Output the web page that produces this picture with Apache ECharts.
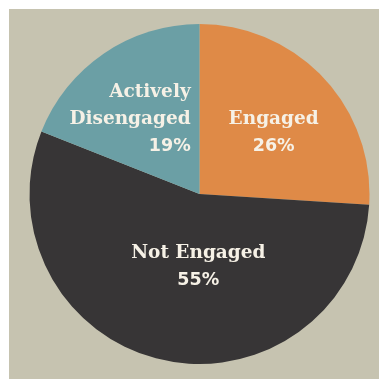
<!DOCTYPE html>
<html>
<head>
<meta charset="utf-8">
<script src="https://cdn.jsdelivr.net/npm/echarts@6/dist/echarts.min.js"></script>
<style>
  html, body { margin: 0; padding: 0; background: #ffffff; }
  #chart { position: absolute; left: 9px; top: 9px; width: 370px; height: 370px; background: #c6c3b0; }
</style>
</head>
<body>
<div id="chart"></div>
<script>
// engagement shares, clockwise from 12 o'clock
const categories = ['Engaged', 'Not Engaged', 'Actively Disengaged'];
const shares = [26, 55, 19];
const nameLines = [['Engaged'], ['Not Engaged'], ['Actively', 'Disengaged']];
const colors = ['#df8a47', '#373536', '#6b9fa5'];

// nudge each label block from the default inside spot
const labelShift = [[10, -1], [18, -13], [-20, -2]];

const chart = echarts.init(document.getElementById('chart'));

const option = {
  animation: false,
  series: [
    {
      type: 'pie',
      center: [190.5, 185],
      radius: [0, 170],
      startAngle: 90,
      clockwise: true,
      silent: true,
      data: categories.map((c, i) => ({
        name: c,
        value: shares[i],
        itemStyle: { color: colors[i] },
        label: {
          rich: {
            n: {
              fontFamily: 'DejaVu Serif',
              fontWeight: 'bold',
              fontSize: 18.5,
              lineHeight: 27,
              color: '#f6f1e6',
              align: i === 2 ? 'right' : 'center'
            },
            p: {
              fontFamily: 'DejaVu Sans',
              fontWeight: 'bold',
              fontSize: 17.5,
              lineHeight: 27,
              color: '#f6f1e6',
              align: i === 2 ? 'right' : 'center'
            }
          }
        }
      })),
      label: {
        show: true,
        position: 'inside',
        formatter: function (p) {
          const lines = nameLines[p.dataIndex].map(t => '{n|' + t + '}');
          lines.push('{p|' + shares[p.dataIndex] + '%}');
          return lines.join('\n');
        }
      },
      labelLine: { show: false },
      labelLayout: function (params) {
        const s = labelShift[params.dataIndex];
        return { dx: s[0], dy: s[1] };
      }
    }
  ]
};

chart.setOption(option);
</script>
</body>
</html>
